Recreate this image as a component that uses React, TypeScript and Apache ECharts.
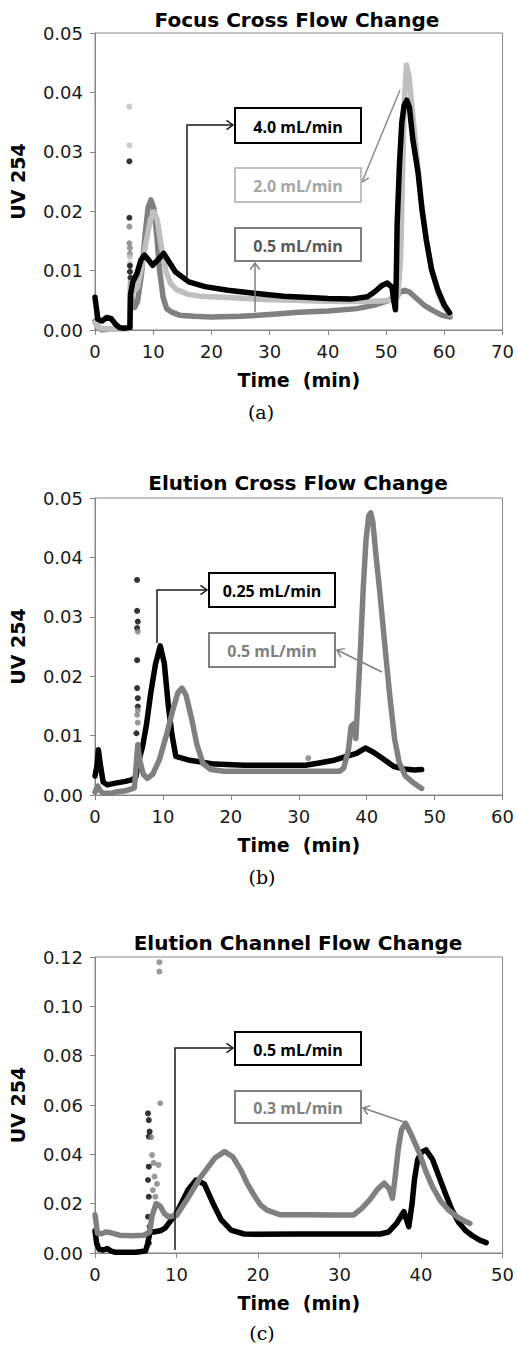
import React, { useEffect, useRef } from "react";
import * as echarts from "echarts";

// ---------- Data: (a) Focus Cross Flow Change ----------
const aXTicks = [0, 10, 20, 30, 40, 50, 60, 70];
const aBlack4 = [
  [0, 0.0055], [0.2, 0.004], [0.5, 0.0018], [1.2, 0.0015], [2, 0.0021], [2.8, 0.0019], [3.5, 0.001],
  [4.2, 0.0004], [5, 0.0003], [6, 0.0004], [6.1, 0.006], [6.5, 0.0081], [7.2, 0.0095], [7.9, 0.0118],
  [8.5, 0.0126], [9.2, 0.0118], [9.9, 0.0109], [10.8, 0.0118], [11.8, 0.0129], [12.7, 0.0115],
  [13.8, 0.0098], [16.1, 0.0081], [18.9, 0.0073], [22.8, 0.0067], [27.3, 0.0062], [32.4, 0.0057],
  [36, 0.0055], [40, 0.0053], [44, 0.0052], [46.8, 0.0056], [48, 0.0064], [49.3, 0.0075], [50.2, 0.0079],
  [51, 0.0072], [51.4, 0.0045], [51.6, 0.0034], [51.75, 0.009], [51.9, 0.018], [52.3, 0.028],
  [52.7, 0.035], [53.1, 0.0378], [53.55, 0.0387], [54, 0.0375], [54.6, 0.032], [55.5, 0.0264],
  [56.2, 0.02], [56.9, 0.0152], [57.8, 0.0102], [58.9, 0.0067], [60, 0.0042], [60.9, 0.0029]
];
const aBlack4Dots = [[5.9, 0.0284], [5.9, 0.0189], [6.0, 0.0108], [6.0, 0.0098], [6.1, 0.0088]];
const aLight2 = [
  [0, 0.0012], [0.6, 0.0004], [1.5, 0.0002], [3, 0.0002], [4.5, 0.0002], [6, 0.0003], [6.2, 0.008],
  [6.7, 0.0065], [7.3, 0.0072], [8, 0.0105], [8.8, 0.015], [9.5, 0.0185], [10.1, 0.0199], [10.7, 0.0185],
  [11.4, 0.014], [12.2, 0.0098], [13, 0.0078], [14, 0.0068], [16, 0.006], [18, 0.0057], [22, 0.0055],
  [26, 0.0053], [30, 0.0051], [34, 0.005], [38, 0.0049], [42, 0.0048], [46, 0.0048], [49, 0.0049],
  [51, 0.005], [52, 0.0056], [52.5, 0.012], [52.8, 0.025], [53.1, 0.038], [53.5, 0.0446], [53.9, 0.043],
  [54.4, 0.038], [55.2, 0.03], [56, 0.022], [57, 0.0145], [58, 0.0095], [59, 0.006], [60, 0.0038], [61, 0.0027]
];
const aLight2Dots = [[5.9, 0.0376], [5.9, 0.0311], [6.0, 0.0123], [6.0, 0.0112]];
const aDark05 = [
  [0, 0.0015], [0.7, 0.0003], [1.3, 0.0], [2.5, 0.0002], [4, 0.0002], [6, 0.0003], [6.1, 0.008],
  [6.4, 0.0045], [6.8, 0.0038], [7.3, 0.0048], [8, 0.0095], [8.6, 0.016], [9.1, 0.0205], [9.6, 0.0219],
  [10.1, 0.0205], [10.6, 0.016], [11.1, 0.01], [11.7, 0.0055], [12.3, 0.0036], [13.2, 0.003],
  [14.5, 0.0025], [17, 0.0023], [20, 0.0022], [25, 0.0023], [30, 0.0026], [35, 0.003], [40, 0.0032],
  [45, 0.0036], [48, 0.0042], [50, 0.0048], [51.5, 0.0055], [52.5, 0.0064], [53.2, 0.0067], [54, 0.0064],
  [55, 0.0055], [56.5, 0.0042], [58, 0.0033], [59.5, 0.0025], [61, 0.0022]
];
const aDark05Dots = [[5.9, 0.0174], [5.9, 0.0146], [6.0, 0.0138], [6.0, 0.0128]];

// ---------- Data: (b) Elution Cross Flow Change ----------
const bXTicks = [0, 10, 20, 30, 40, 50, 60];
const bBlack025 = [
  [0, 0.0032], [0.3, 0.005], [0.5, 0.0076], [0.8, 0.005], [1.2, 0.0022], [1.8, 0.0017], [3, 0.002],
  [4.5, 0.0023], [5.5, 0.0026], [6, 0.003], [6.5, 0.006], [7, 0.0081], [7.6, 0.012], [8.2, 0.0171],
  [8.9, 0.022], [9.6, 0.0251], [10.2, 0.0222], [10.8, 0.015], [11.3, 0.0104], [11.9, 0.0065],
  [13.7, 0.0059], [17.6, 0.0052], [22, 0.005], [27, 0.005], [31, 0.005], [33, 0.0054], [35, 0.0058],
  [37, 0.0065], [38.5, 0.007], [39.8, 0.0079], [41, 0.0072], [42.5, 0.006], [44, 0.0048], [45.5, 0.0044],
  [47, 0.0042], [48.1, 0.0043]
];
const bBlack025Dots = [
  [6.2, 0.0362], [6.2, 0.031], [6.3, 0.0292], [6.2, 0.0281], [6.2, 0.0227], [6.2, 0.018], [6.3, 0.0163],
  [6.3, 0.0149], [6.1, 0.0104]
];
const bGrey05 = [
  [0, 0.0005], [0.4, 0.0015], [0.7, 0.0008], [1.2, 0.0003], [2.5, 0.0003], [3, 0.0005], [4.5, 0.0007],
  [5.8, 0.0012], [6.3, 0.0085], [6.6, 0.0058], [7.1, 0.0035], [7.7, 0.0028], [8.5, 0.0035], [9.5, 0.006],
  [10.5, 0.01], [11.5, 0.0145], [12.2, 0.0172], [12.8, 0.018], [13.4, 0.0168], [14.2, 0.013], [15, 0.0085],
  [15.9, 0.0053], [17, 0.0043], [19, 0.004], [25, 0.004], [31, 0.004], [36, 0.004], [36.6, 0.0045],
  [37.3, 0.0075], [37.7, 0.0115], [38.1, 0.012], [38.4, 0.0095], [38.7, 0.016], [39.1, 0.025],
  [39.5, 0.035], [39.9, 0.043], [40.3, 0.047], [40.6, 0.0475], [40.9, 0.046], [41.4, 0.04], [41.9, 0.0345],
  [42.6, 0.026], [43.4, 0.0167], [44.1, 0.0095], [44.8, 0.0054], [45.7, 0.0032], [46.7, 0.0022], [48.1, 0.0011]
];
const bGrey05Dots = [[6.3, 0.0275], [6.3, 0.0143], [6.2, 0.0135], [6.3, 0.0122], [31.4, 0.0062]];

// ---------- Data: (c) Elution Channel Flow Change ----------
const cXTicks = [0, 10, 20, 30, 40, 50];
const cBlack05 = [
  [0, 0.009], [0.2, 0.004], [0.5, 0.0015], [1, 0.0012], [1.5, 0.0018], [2, 0.0008], [2.5, 0.0003],
  [3.5, 0.0003], [5, 0.0003], [6.2, 0.0008], [6.4, 0.003], [6.8, 0.009], [7.2, 0.0085], [8, 0.009],
  [8.6, 0.0101], [10, 0.0162], [11.4, 0.0255], [12.4, 0.0296], [13.4, 0.028], [14.5, 0.02], [15.5, 0.0134],
  [16.7, 0.0093], [18.3, 0.0077], [20, 0.0076], [25, 0.0077], [30, 0.0077], [35, 0.0077], [36, 0.0085],
  [37, 0.012], [37.9, 0.0168], [38.5, 0.0107], [38.9, 0.02], [39.2, 0.03], [39.6, 0.038], [40.1, 0.041],
  [40.6, 0.0418], [41.4, 0.038], [42.2, 0.031], [43, 0.024], [43.8, 0.0174], [44.6, 0.0125], [45.4, 0.0093],
  [46.3, 0.007], [47.2, 0.0052], [48, 0.0042]
];
const cBlack05Dots = [
  [6.5, 0.0566], [6.6, 0.0539], [6.7, 0.0492], [6.6, 0.0472], [6.6, 0.035], [6.5, 0.0296],
  [6.6, 0.0228], [6.5, 0.0147], [6.7, 0.0107], [6.6, 0.004]
];
const cGrey03 = [
  [0, 0.0155], [0.15, 0.012], [0.3, 0.008], [0.8, 0.0078], [1.3, 0.0085], [2, 0.0082], [3, 0.0072],
  [4.5, 0.007], [6, 0.0072], [6.7, 0.0085], [7, 0.015], [7.5, 0.02], [8, 0.019], [8.5, 0.016], [9, 0.0147],
  [10, 0.0152], [11.4, 0.0223], [13, 0.031], [14.7, 0.0385], [15.9, 0.0411], [16.9, 0.039], [17.9, 0.0336],
  [18.7, 0.028], [19.5, 0.0235], [20.3, 0.0195], [21.1, 0.0174], [22.7, 0.0155], [26, 0.0155], [29, 0.0154],
  [31.7, 0.0154], [32.7, 0.018], [33.7, 0.0215], [34.7, 0.026], [35.5, 0.0283], [36.1, 0.026], [36.5, 0.0222],
  [36.8, 0.03], [37.2, 0.042], [37.6, 0.05], [38.1, 0.0526], [38.8, 0.048], [39.8, 0.0405], [40.6, 0.033],
  [41.4, 0.0269], [42.4, 0.021], [43.4, 0.0174], [44.5, 0.0145], [45.3, 0.013], [46, 0.012]
];
const cGrey03Dots = [
  [7.9, 0.1179], [7.9, 0.1141], [8.0, 0.0607], [6.9, 0.047], [7.0, 0.0397], [7.2, 0.0365], [7.8, 0.0357],
  [7.3, 0.031], [7.6, 0.028], [7.1, 0.0255], [7.4, 0.0228]
];

const titles = ["Focus Cross Flow Change", "Elution Cross Flow Change", "Elution Channel Flow Change"];
const captions = ["(a)", "(b)", "(c)"];
const xMax = [70, 60, 50];
const yMax = [0.05, 0.05, 0.12];
const yInterval = [0.01, 0.01, 0.02];

const SANS = "DejaVu Sans";
const AXIS_GREY = "#868686";
const BLACK = "#000000";
const LIGHT = "#bfbfbf";
const DARK = "#808080";

function arrowHead(x1: number, y1: number, x2: number, y2: number, len = 8, ang = Math.PI / 5) {
  const t = Math.atan2(y2 - y1, x2 - x1);
  return [
    [x2 - len * Math.cos(t - ang), y2 - len * Math.sin(t - ang)],
    [x2, y2],
    [x2 - len * Math.cos(t + ang), y2 - len * Math.sin(t + ang)],
  ];
}

function arrow(points: number[][], color: string, width = 1.5) {
  const n = points.length;
  const [x1, y1] = points[n - 2];
  const [x2, y2] = points[n - 1];
  return [
    { type: "polyline", shape: { points }, style: { stroke: color, lineWidth: width, fill: null }, z: 20 },
    { type: "polyline", shape: { points: arrowHead(x1, y1, x2, y2) }, style: { stroke: color, lineWidth: width, fill: null }, z: 20 },
  ];
}

function box(x: number, y: number, w: number, h: number, text: string, stroke: string, color: string) {
  return [
    { type: "rect", shape: { x, y, width: w, height: h }, style: { fill: "#ffffff", stroke, lineWidth: 2 }, z: 21 },
    {
      type: "text", x: x + w / 2, y: y + h / 2 + 1, z: 22,
      style: {
        text, fill: color, font: "bold 16px 'Open Sans'",
        textAlign: "center", textVerticalAlign: "middle", align: "center", verticalAlign: "middle",
      },
    },
  ];
}

function centerText(x: number, y: number, text: string, font: string) {
  return {
    type: "text", x, y, z: 22,
    style: { text, fill: "#000", font, textAlign: "center", textVerticalAlign: "middle", align: "center", verticalAlign: "middle" },
  };
}

export default function App() {
  const ref = useRef<HTMLDivElement>(null);
  useEffect(() => {
    if (!ref.current) return;
    const chart = echarts.init(ref.current, undefined, { renderer: "svg" });
    const grids = [
      { left: 90, top: 33, width: 414, height: 297 },
      { left: 90, top: 498, width: 415, height: 297 },
      { left: 90, top: 957, width: 415, height: 296 },
    ];
    const xAxes = grids.map((_, i) => ({
      type: "value", gridIndex: i, min: 0, max: xMax[i], interval: 10,
      name: "Time  (min)", nameLocation: "middle", nameGap: 40,
      nameTextStyle: { fontFamily: SANS, fontWeight: "bold", fontSize: 19, color: "#000" },
      axisLine: { show: true, lineStyle: { color: AXIS_GREY, width: 1 } },
      axisTick: { show: true, inside: false, length: 5, lineStyle: { color: AXIS_GREY } },
      axisLabel: { fontFamily: SANS, fontSize: 18, color: "#1a1a1a", margin: 12 },
      splitLine: { show: false },
    }));
    const yAxes = grids.map((_, i) => ({
      type: "value", gridIndex: i, min: 0, max: yMax[i], interval: yInterval[i],
      name: "UV 254", nameLocation: "middle", nameGap: 68,
      nameTextStyle: { fontFamily: SANS, fontWeight: "bold", fontSize: 19, color: "#000" },
      axisLine: { show: true, lineStyle: { color: AXIS_GREY, width: 1 } },
      axisTick: { show: true, inside: false, length: 5, lineStyle: { color: AXIS_GREY } },
      axisLabel: { fontFamily: SANS, fontSize: 18, color: "#1a1a1a", margin: 12, formatter: (v: number) => v.toFixed(2) },
      splitLine: { show: false },
    }));
    const line = (data: number[][], color: string, gi: number) => ({
      type: "line", data, xAxisIndex: gi, yAxisIndex: gi, showSymbol: false, symbol: "none",
      lineStyle: { color, width: 5.5, cap: "round", join: "round" }, silent: true,
    });
    const dots = (data: number[][], color: string, gi: number) => ({
      type: "scatter", data, xAxisIndex: gi, yAxisIndex: gi, symbol: "circle", symbolSize: 6,
      itemStyle: { color }, silent: true,
    });
    const series = [
      line(aDark05, DARK, 0), dots(aDark05Dots, DARK, 0),
      line(aLight2, LIGHT, 0), dots(aLight2Dots, LIGHT, 0),
      line(aBlack4, BLACK, 0), dots(aBlack4Dots, BLACK, 0),
      line(bBlack025, BLACK, 1), dots(bBlack025Dots, BLACK, 1),
      line(bGrey05, DARK, 1), dots(bGrey05Dots, DARK, 1),
      line(cBlack05, BLACK, 2), dots(cBlack05Dots, BLACK, 2),
      line(cGrey03, DARK, 2), dots(cGrey03Dots, DARK, 2),
    ];
    const titleFont = `bold 20px '${SANS}'`;
    const capFont = "19px 'DejaVu Serif'";
    const graphic = [
      centerText(297, 20, titles[0], titleFont),
      centerText(298, 483, titles[1], titleFont),
      centerText(298, 943, titles[2], titleFont),
      centerText(261, 412, captions[0], capFont),
      centerText(262, 877, captions[1], capFont),
      centerText(262, 1333, captions[2], capFont),
      // (a)
      ...arrow([[187, 277], [187, 125], [233, 125]], "#1a1a1a"),
      ...box(235, 108, 126, 35, "4.0 mL/min", "#000", "#000"),
      ...arrow([[400, 90], [362, 182]], "#8c8c8c"),
      ...box(235, 168, 126, 34, "2.0 mL/min", LIGHT, "#a6a6a6"),
      ...arrow([[255, 312], [255, 263]], "#7f7f7f"),
      ...box(235, 228, 126, 33, "0.5 mL/min", "#7f7f7f", "#595959"),
      // (b)
      ...arrow([[157, 643], [157, 590], [207, 590]], "#1a1a1a"),
      ...box(209, 573, 126, 34, "0.25 mL/min", "#000", "#000"),
      ...arrow([[382, 672], [337, 650]], "#808080"),
      ...box(209, 633, 126, 34, "0.5 mL/min", "#808080", "#808080"),
      // (c)
      ...arrow([[175, 1250], [175, 1048], [233, 1048]], "#1a1a1a"),
      ...box(235, 1032, 126, 33, "0.5 mL/min", "#000", "#000"),
      ...arrow([[407, 1123], [363, 1108]], "#808080"),
      ...box(235, 1091, 126, 32, "0.3 mL/min", "#808080", "#808080"),
    ];
    chart.setOption({
      animation: false,
      backgroundColor: "#ffffff",
      grid: grids.map((g) => ({ ...g, show: true, borderColor: AXIS_GREY, borderWidth: 1, backgroundColor: "transparent" })),
      xAxis: xAxes,
      yAxis: yAxes,
      series,
      graphic,
    } as any);
    return () => chart.dispose();
  }, []);
  return (
    <div
      ref={ref}
      style={{ position: "absolute", left: 0, top: 0, width: 517, height: 1347, background: "#fff" }}
    />
  );
}
